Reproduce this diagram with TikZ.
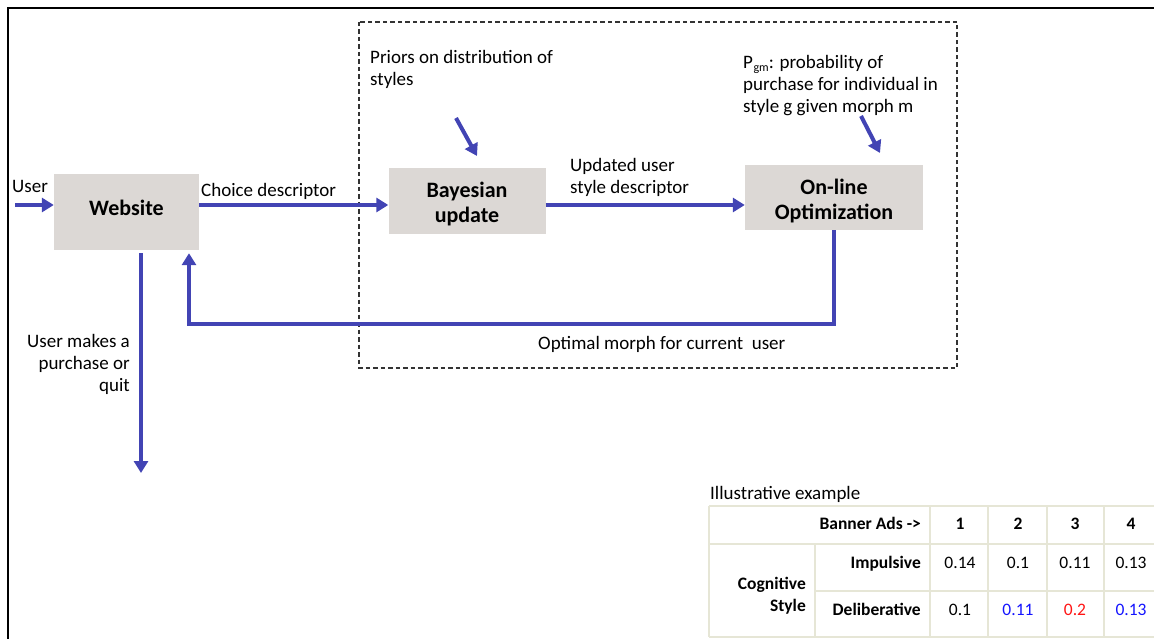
\documentclass[tikz,border=0pt]{standalone}
\usepackage{fontspec}
\setmainfont{Carlito}
\usetikzlibrary{arrows.meta}
\definecolor{arrblue}{RGB}{66,68,180}
\definecolor{boxgray}{RGB}{220,216,213}
\definecolor{tabline}{RGB}{230,230,214}
\definecolor{valblue}{RGB}{20,20,255}
\definecolor{valred}{RGB}{255,20,20}
\tikzset{
  procbox/.style={fill=boxgray, draw=none, font=\fontsize{22}{25}\selectfont\bfseries, align=center, inner sep=0pt},
  arr/.style={draw=arrblue, line width=4pt, -{Triangle[length=12pt,width=14pt]}},
  lbl/.style={font=\fontsize{19}{22}\selectfont, inner sep=0pt},
  tab/.style={font=\fontsize{17.5}{21}\selectfont, inner sep=0pt, anchor=base},
  tabb/.style={tab, font=\fontsize{17.5}{21}\selectfont\bfseries},
  grid/.style={draw=tabline, line width=2pt}
}
\begin{document}
\begin{tikzpicture}[x=1pt,y=-1pt]
\useasboundingbox (0,0) rectangle (1154,639);
% outer frame
\draw[line width=2pt] (8,639) -- (8,8) -- (1154,8);
% dashed region
\draw[draw=black!80, line width=1.2pt, dash pattern=on 4.5pt off 3pt] (359,22) rectangle (957,368);
% boxes
\node[procbox, minimum width=145pt, minimum height=76pt] (web) at (126.5,212) {\raisebox{4pt}[\height][\depth]{Website}};
\node[procbox, minimum width=157pt, minimum height=66pt] (bay) at (467,201) {\raisebox{-3pt}[\height][\depth]{\parbox{157pt}{\centering Bayesian\\update}}};
\node[procbox, minimum width=178pt, minimum height=65pt] (opt) at (834,197.5) {\raisebox{-3.5pt}[\height][\depth]{\parbox{178pt}{\centering On-line\\Optimization}}};
% coordinates
\coordinate (user) at (15,205);
\coordinate (ret) at (189,324);
\coordinate (quit) at (141,473);
\coordinate (pa) at (456,118);
\coordinate (pb) at (477,156);
\coordinate (qa) at (861,116);
\coordinate (qb) at (880,153);
% arrows
\draw[arr] (user) -- (user -| web.west);
\draw[arr] (web.east |- user) -- (bay.west |- user);
\draw[arr] (bay.east |- user) -- (opt.west |- user);
\draw[arr, shorten >=3pt] (opt.south) |- (ret) -- (ret |- web.south);
\draw[arr, shorten <=3pt] (quit |- web.south) -- (quit);
\draw[arr] (pa) -- (pb);
\draw[arr] (qa) -- (qb);
% labels
\node[lbl, anchor=base west] (tuser) at (12,193) {User};
\node[lbl, anchor=base west] (tchoice) at (201,197) {Choice descriptor};
\node[lbl, anchor=north west, align=left] (tupd) at (570,158) {Updated user\\style descriptor};
\node[lbl, anchor=north west, align=left] (tpri) at (370,50) {Priors on distribution of\\styles};
\node[lbl, anchor=north west, align=left] (tpgm) at (743,55) {P\kern0.5pt\raisebox{-3pt}{\fontsize{12}{12}\selectfont gm}: probability of\\purchase for individual in\\style g given morph m};
\node[lbl, anchor=base west] (topt) at (538,349) {Optimal morph for current\ \ user};
\node[lbl, anchor=north east, align=right] (tquit) at (130,334) {User makes a\\purchase or\\quit};
% table
\node[lbl, anchor=base west] (till) at (710,499) {Illustrative example};
\draw[grid] (709,506) -- (1154,506);
\draw[grid] (709,544) -- (1154,544);
\draw[grid] (815,591) -- (1154,591);
\draw[grid] (709,637) -- (1154,637);
\draw[grid] (709,506) -- (709,637);
\draw[grid] (815,544) -- (815,637);
\foreach \x in {930,988,1047,1104} \draw[grid] (\x,506) -- (\x,637);
\node[tabb, anchor=base east] (hban) at (921,529) {Banner Ads ->};
\node[tabb] (h1) at (960,529) {1};
\node[tabb] (h2) at (1018,529) {2};
\node[tabb] (h3) at (1075,529) {3};
\node[tabb] (h4) at (1131,529) {4};
\node[tabb, anchor=base east] (rimp) at (921,568) {Impulsive};
\node[tab] (i1) at (960,568) {0.14};
\node[tab] (i2) at (1018,568) {0.1};
\node[tab] (i3) at (1075,568) {0.11};
\node[tab] (i4) at (1131,568) {0.13};
\node[tabb, anchor=base east] (rdel) at (921,615) {Deliberative};
\node[tab] (d1) at (960,615) {0.1};
\node[tab, text=valblue] (d2) at (1018,615) {0.11};
\node[tab, text=valred] (d3) at (1075,615) {0.2};
\node[tab, text=valblue] (d4) at (1131,615) {0.13};
\node[tabb, anchor=north east, align=right, font=\fontsize{17.5}{22}\selectfont\bfseries] (rcog) at (806,577) {Cognitive\\Style};
\end{tikzpicture}
\end{document}
